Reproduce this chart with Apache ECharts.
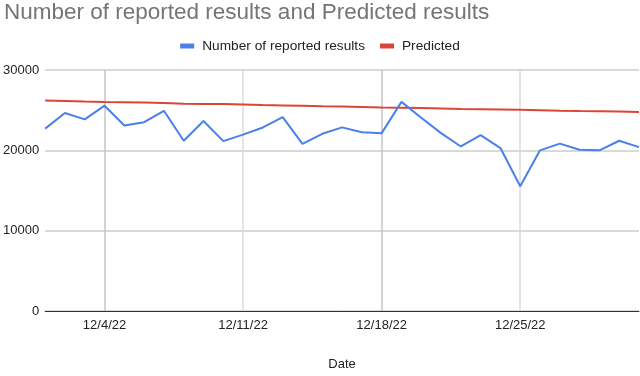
<!DOCTYPE html>
<html>
<head>
<meta charset="utf-8">
<script src="https://cdn.jsdelivr.net/npm/echarts@6/dist/echarts.min.js"></script>
<style>
  html, body { margin: 0; padding: 0; background: #fff; }
  #chartContainer { width: 640px; height: 376px; }
</style>
</head>
<body>
<div id="chartContainer"></div>
<script>
// dates on the x axis (one point a day)
var dates = ['12/1/22', '12/2/22', '12/3/22', '12/4/22', '12/5/22', '12/6/22', '12/7/22', '12/8/22',
  '12/9/22', '12/10/22', '12/11/22', '12/12/22', '12/13/22', '12/14/22', '12/15/22', '12/16/22',
  '12/17/22', '12/18/22', '12/19/22', '12/20/22', '12/21/22', '12/22/22', '12/23/22', '12/24/22',
  '12/25/22', '12/26/22', '12/27/22', '12/28/22', '12/29/22', '12/30/22', '12/31/22'];

// only these dates get a label and a vertical grid line
var labelDates = ['12/4/22', '12/11/22', '12/18/22', '12/25/22'];

var reported = [22700, 24650, 23850, 25560, 23100, 23500, 24920, 21200, 23650, 21150, 21950,
  22850, 24130, 20800, 22060, 22860, 22260, 22140, 26030, 24050, 22140, 20480, 21900, 20280,
  15520, 20000, 20830, 20080, 20000, 21190, 20400];

var predicted = [26200, 26150, 26080, 26030, 25990, 25940, 25880, 25800, 25780, 25760, 25700,
  25640, 25590, 25540, 25490, 25450, 25400, 25330, 25310, 25260, 25210, 25160, 25120, 25080,
  25040, 24990, 24930, 24900, 24880, 24830, 24770];

var yTicks = { min: 0, max: 30000, interval: 10000 };

var FONT = '"Liberation Sans", Arial, sans-serif';

function isLabelDate(idx, value) {
    return labelDates.indexOf(value) >= 0;
}

var chartDom = document.getElementById('chartContainer');
var myChart = echarts.init(chartDom);

var option = {
    animation: false,
    title: {
        text: 'Number of reported results and Predicted results',
        left: -1,
        top: -4,
        textStyle: { fontFamily: FONT, fontSize: 22.5, fontWeight: 'normal', color: '#757575' }
    },
    legend: {
        top: 34,
        left: 'center',
        itemWidth: 14,
        itemHeight: 5,
        itemGap: 15,
        icon: 'rect',
        textStyle: { fontFamily: FONT, fontSize: 13.7, color: '#222', padding: [0, 0, 0, 3] },
        data: ['Number of reported results', 'Predicted']
    },
    grid: { left: 43, right: 1, top: 70, bottom: 53 },
    xAxis: {
        type: 'category',
        data: dates,
        boundaryGap: false,
        name: 'Date',
        nameLocation: 'middle',
        nameGap: 47,
        nameTextStyle: { fontFamily: FONT, fontSize: 13, color: '#222' },
        axisLine: { lineStyle: { color: '#333', width: 1 } },
        axisTick: { show: false },
        axisLabel: {
            interval: isLabelDate,
            fontFamily: FONT,
            fontSize: 13,
            color: '#222',
            margin: 8
        },
        splitLine: {
            show: true,
            interval: isLabelDate,
            lineStyle: { color: ['#c4c4c4', '#dcdcdc'], width: 1.5 }
        }
    },
    yAxis: {
        type: 'value',
        min: yTicks.min,
        max: yTicks.max,
        interval: yTicks.interval,
        axisLine: { show: false },
        axisTick: { show: false },
        axisLabel: {
            fontFamily: FONT,
            fontSize: 13,
            color: '#222',
            margin: 6,
            formatter: function (v) { return String(v); }
        },
        splitLine: { lineStyle: { color: '#cccccc', width: 1.5 } }
    },
    series: [
        {
            name: 'Number of reported results',
            type: 'line',
            data: reported,
            symbol: 'none',
            lineStyle: { color: '#4a80e8', width: 2 },
            itemStyle: { color: '#4a80e8' },
            z: 3
        },
        {
            name: 'Predicted',
            type: 'line',
            data: predicted,
            symbol: 'none',
            lineStyle: { color: '#dc4436', width: 2 },
            itemStyle: { color: '#dc4436' },
            z: 2
        }
    ]
};

myChart.setOption(option);
</script>
</body>
</html>
